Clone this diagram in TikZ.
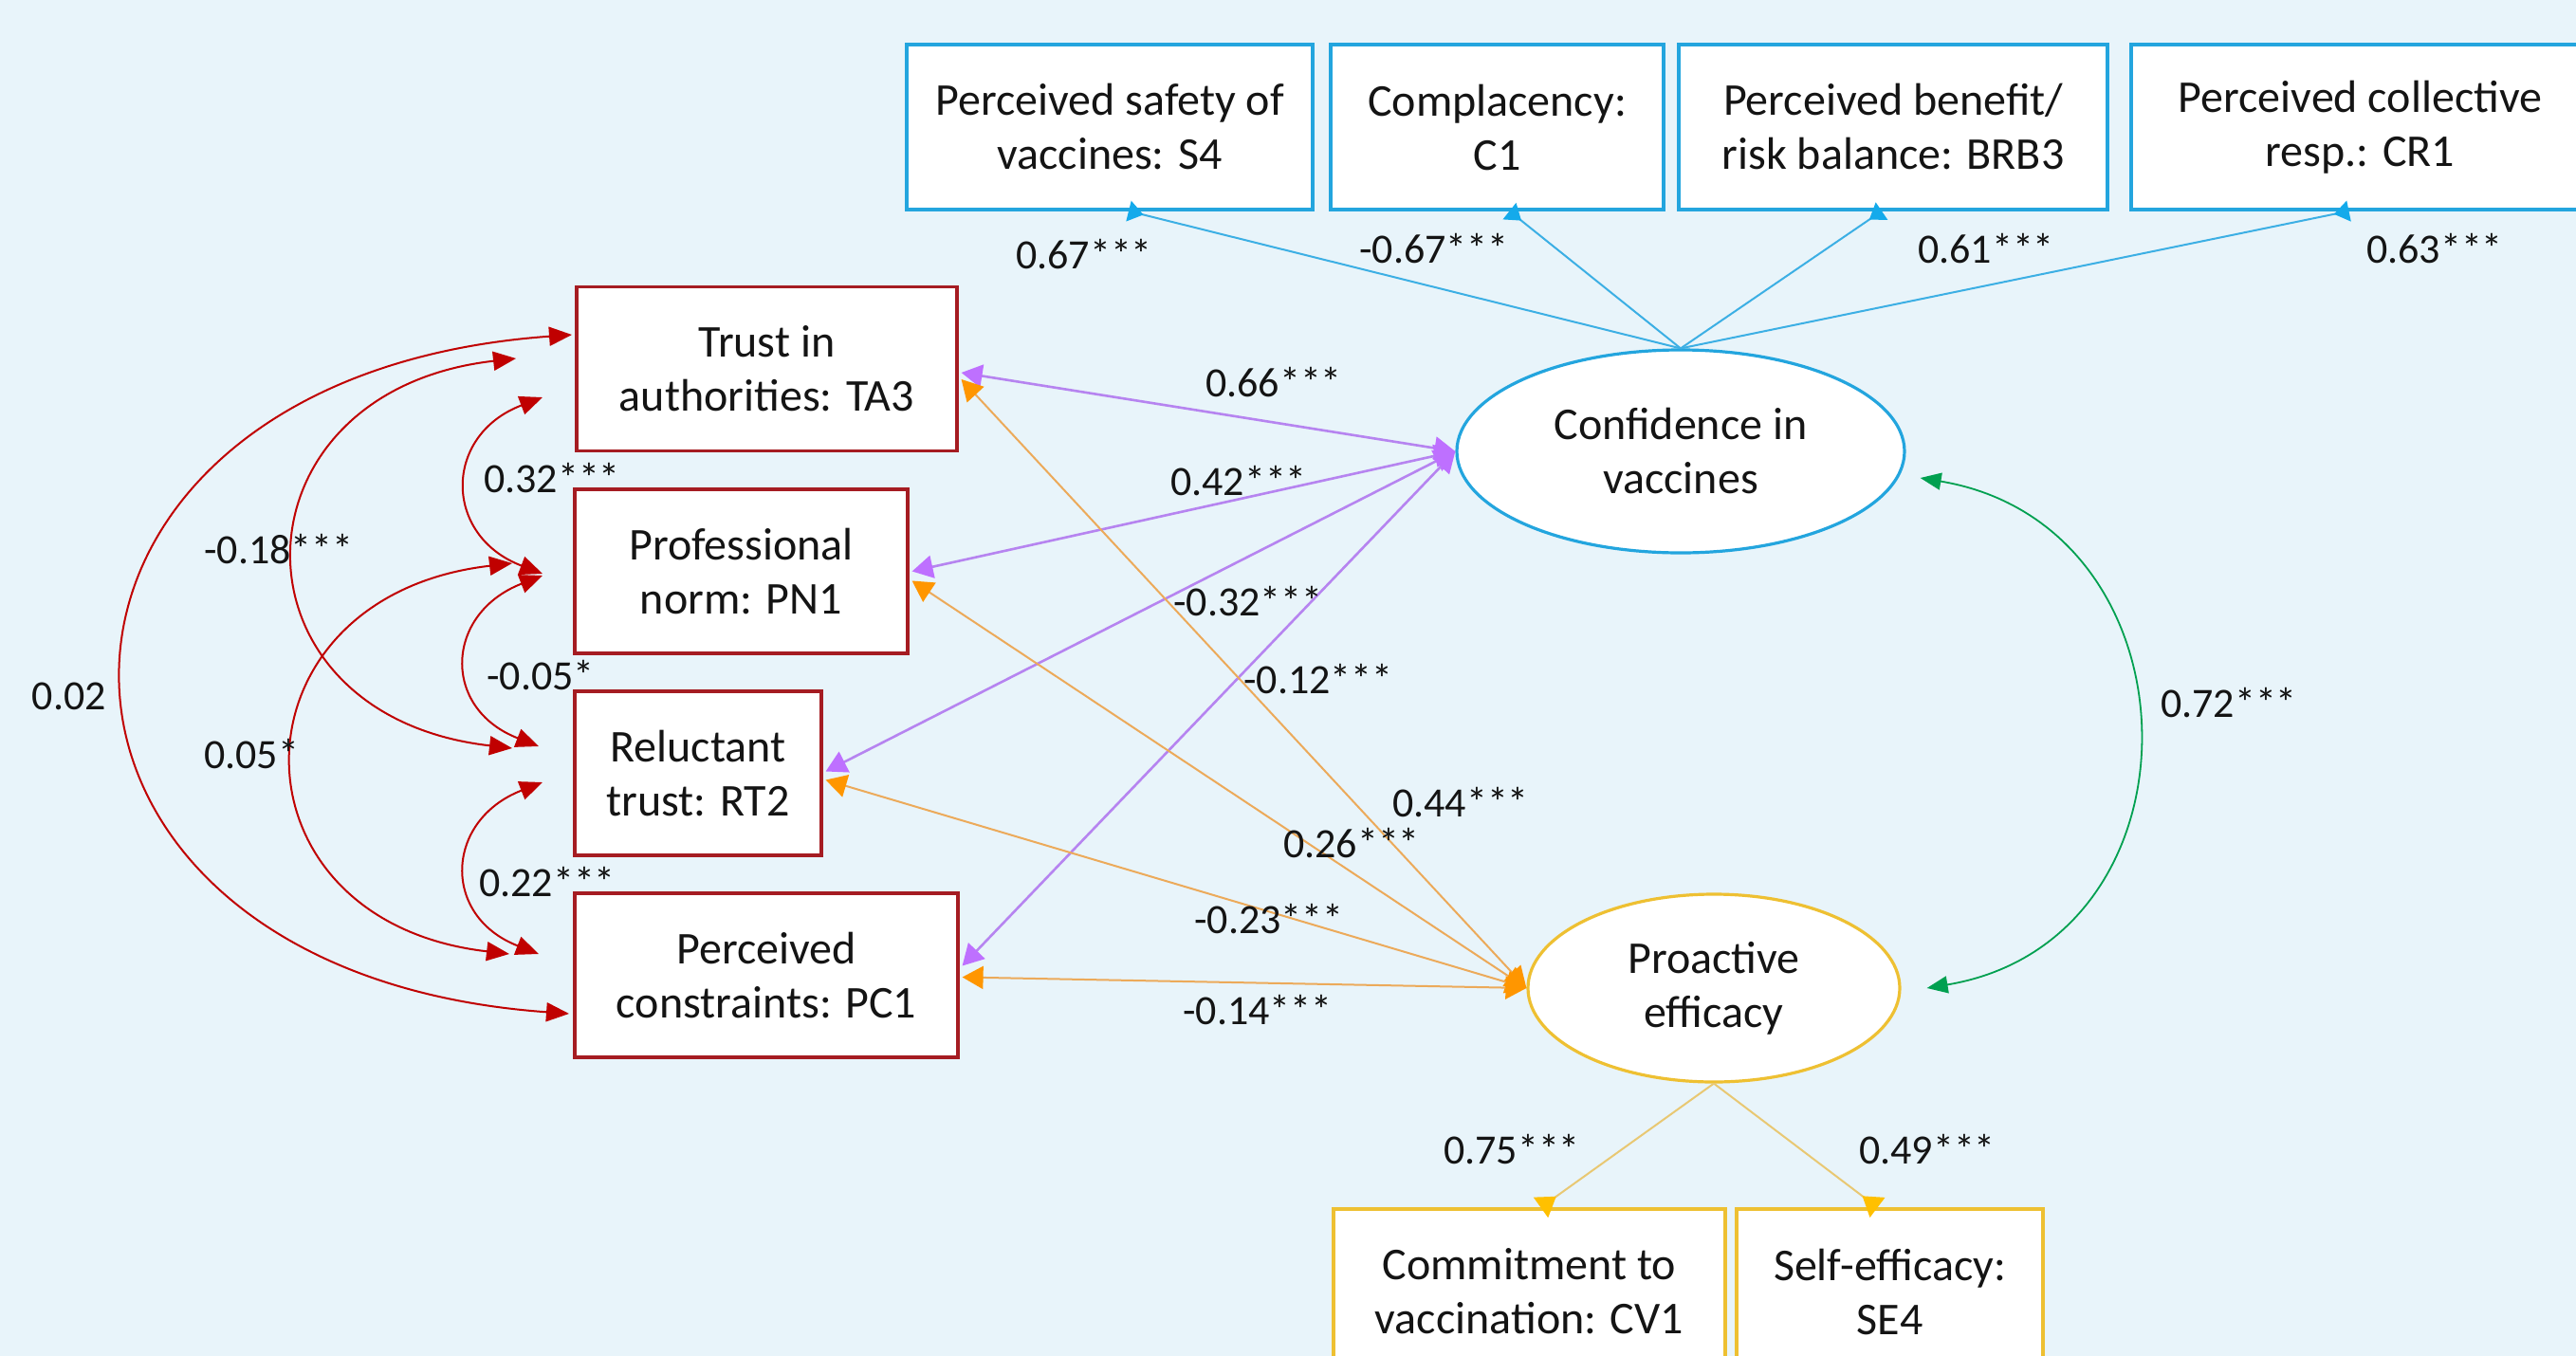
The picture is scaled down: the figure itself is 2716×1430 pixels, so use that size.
\documentclass[tikz,border=0pt]{standalone}
\usepackage{fontspec}
\setmainfont{Carlito}
\usetikzlibrary{arrows.meta,shapes.geometric,calc}
\definecolor{bgc}{RGB}{232,244,250}
\definecolor{boxred}{RGB}{165,28,34}
\definecolor{arcred}{RGB}{192,0,0}
\definecolor{boxblue}{RGB}{35,165,222}
\definecolor{lineblue}{RGB}{60,175,228}
\definecolor{tipblue}{RGB}{20,170,235}
\definecolor{boxyel}{RGB}{238,192,50}
\definecolor{lineyel}{RGB}{232,200,115}
\definecolor{tipyel}{RGB}{255,192,0}
\definecolor{linepur}{RGB}{182,132,240}
\definecolor{tippur}{RGB}{190,112,255}
\definecolor{lineora}{RGB}{236,170,90}
\definecolor{tipora}{RGB}{255,150,0}
\definecolor{grn}{RGB}{0,160,80}
\definecolor{txt}{RGB}{20,20,20}
\begin{document}
\begin{tikzpicture}[x=0.5pt,y=-0.5pt,
  boxtext/.style={font=\fontsize{24pt}{28.5pt}\selectfont, text=txt, align=center, fill=white, line width=1.6pt, inner sep=0pt},
  redbox/.style={boxtext, draw=boxred, minimum height=86.5pt},
  bluebox/.style={boxtext, draw=boxblue, minimum height=87pt},
  yelbox/.style={boxtext, draw=boxyel, minimum height=87pt},
  latent/.style={boxtext, ellipse},
  lbl/.style={font=\fontsize{22pt}{26pt}\selectfont, text=txt, inner sep=0pt},
  redarc/.style={draw=arcred, line width=1pt,
    {Triangle[length=12pt,width=10pt,color=arcred]}-{Triangle[length=12pt,width=10pt,color=arcred]}},
  purline/.style={draw=linepur, line width=1.3pt,
    {Triangle[length=11pt,width=12pt,color=tippur]}-{Triangle[length=11pt,width=12pt,color=tippur]}},
  oraline/.style={draw=lineora, line width=1pt,
    {Triangle[length=11pt,width=12pt,color=tipora]}-{Triangle[length=11pt,width=12pt,color=tipora]}},
  blueline/.style={draw=lineblue, line width=1pt, -{Triangle[reversed,length=8pt,width=11pt,color=tipblue]}},
  yelline/.style={draw=lineyel, line width=1pt, -{Triangle[reversed,length=10pt,width=13pt,color=tipyel]}},
  grnline/.style={draw=grn, line width=0.9pt,
    {Triangle[length=11pt,width=9pt,color=grn]}-{Triangle[length=11pt,width=9pt,color=grn]}}
]
\useasboundingbox (0,0) rectangle (2716,1430);
\fill[bgc] (0,0) rectangle (2716,1430);

% indicator boxes (top)
\node[bluebox, minimum width=214pt] (S4) at (1170,134) {Perceived safety of\\vaccines: S4};
\node[bluebox, minimum width=175.5pt] (C1) at (1578.5,134) {Complacency:\\C1};
\node[bluebox, minimum width=226pt] (BRB3) at (1996,134) {Perceived benefit/\\risk balance: BRB3};
\node[bluebox, minimum width=241.5pt] (CR1) at (2488.5,134) {Perceived collective\\resp.: CR1};

% predictor boxes (left)
\node[redbox, minimum width=200.5pt] (TA3) at (808.5,389) {Trust in\\authorities: TA3};
\node[redbox, minimum width=175.5pt] (PN1) at (781.5,602.5) {Professional\\norm: PN1};
\node[redbox, minimum width=130pt] (RT2) at (736,815.5) {Reluctant\\trust: RT2};
\node[redbox, minimum width=202pt] (PC1) at (808,1028.5) {Perceived\\constraints: PC1};

% latent variables
\node[latent, draw=boxblue, minimum width=236pt, minimum height=107pt] (Conf) at (1772,476) {Confidence in\\vaccines};
\node[latent, draw=boxyel, minimum width=196pt, minimum height=99pt] (Pro) at (1807,1042) {Proactive\\efficacy};

% indicator boxes (bottom)
\node[yelbox, minimum width=206.5pt] (CV1) at (1612.5,1362) {Commitment to\\vaccination: CV1};
\node[yelbox, minimum width=161.5pt] (SE4) at (1992.5,1362) {Self-efficacy:\\SE4};

% loadings of confidence
\draw[blueline] (Conf.north) -- ($(S4.south)+(20,0)$);
\draw[blueline] (Conf.north) -- ($(C1.south)+(13,0)$);
\draw[blueline] (Conf.north) -- ($(BRB3.south)+(-12,0)$);
\draw[blueline] (Conf.north) -- ($(CR1.south)+(-12,0)$);

% loadings of proactive efficacy
\draw[yelline] (Pro.south) -- ($(CV1.north)+(12,0)$);
\draw[yelline] (Pro.south) -- ($(SE4.north)+(-13,0)$);

% correlations with confidence (purple)
\draw[purline] ($(TA3.east)+(3,4)$) -- (Conf.west);
\draw[purline] ($(PN1.east)+(3,0)$) -- (Conf.west);
\draw[purline] ($(RT2.east)+(3,-2)$) -- (Conf.west);
\draw[purline] ($(PC1.east)+(3,-10)$) -- (Conf.west);

% correlations with proactive efficacy (orange)
\draw[oraline] ($(TA3.east)+(3,11)$) -- (Pro.west);
\draw[oraline] ($(PN1.east)+(3,10)$) -- (Pro.west);
\draw[oraline] ($(RT2.east)+(3,7)$) -- (Pro.west);
\draw[oraline] ($(PC1.east)+(3,2)$) -- (Pro.west);

% correlation between latents
\coordinate (gT) at ($(Conf.east)+(15,28)$);
\coordinate (gB) at ($(Pro.east)+(27,0)$);
\draw[grnline] (gT) .. controls +(300,50) and +(300,-50) .. (gB);

% correlations among predictors (red arcs)
\coordinate (a1t) at (603,353);  \coordinate (a1b) at (600,1069);
\coordinate (a2t) at (544,378);  \coordinate (a2b) at (540,789);
\coordinate (a3t) at (540,594);  \coordinate (a3b) at (537,1006);
\coordinate (a4t) at (572,419);  \coordinate (a4b) at (572,605);
\coordinate (a5t) at (572,607);  \coordinate (a5b) at (568,787);
\coordinate (a6t) at (572,825);  \coordinate (a6b) at (568,1006);
\draw[redarc] (a1t) .. controls +(-627,45) and +(-627,-45) .. (a1b);
\draw[redarc] (a2t) .. controls +(-307,35) and +(-307,-35) .. (a2b);
\draw[redarc] (a3t) .. controls +(-304,35) and +(-304,-35) .. (a3b);
\draw[redarc] (a4t) .. controls +(-105,40) and +(-105,-40) .. (a4b);
\draw[redarc] (a5t) .. controls +(-103,40) and +(-103,-40) .. (a5b);
\draw[redarc] (a6t) .. controls +(-103,40) and +(-103,-40) .. (a6b);

% labels
\node[lbl] (l1) at (1143,268) {0.67***};
\node[lbl] (l2) at (1512,262) {-0.67***};
\node[lbl] (l3) at (2094,262) {0.61***};
\node[lbl] (l4) at (2567,262) {0.63***};
\node[lbl] (l5) at (1343,403) {0.66***};
\node[lbl] (l6) at (1306,507) {0.42***};
\node[lbl] (l7) at (1316,634) {-0.32***};
\node[lbl] (l8) at (1390,716) {-0.12***};
\node[lbl] (l9) at (1540,846) {0.44***};
\node[lbl] (l10) at (1425,889) {0.26***};
\node[lbl] (l11) at (1338,969) {-0.23***};
\node[lbl] (l12) at (1326,1065) {-0.14***};
\node[lbl] (l13) at (1594,1212) {0.75***};
\node[lbl] (l14) at (2032,1212) {0.49***};
\node[lbl] (l15) at (2350,741) {0.72***};
\node[lbl] (l16) at (582,504) {0.32***};
\node[lbl] (l17) at (570,712) {-0.05*};
\node[lbl] (l18) at (577,930) {0.22***};
\node[lbl] (l19) at (294,579) {-0.18***};
\node[lbl] (l20) at (265,795) {0.05*};
\node[lbl] (l21) at (73,734) {0.02};
\end{tikzpicture}
\end{document}
